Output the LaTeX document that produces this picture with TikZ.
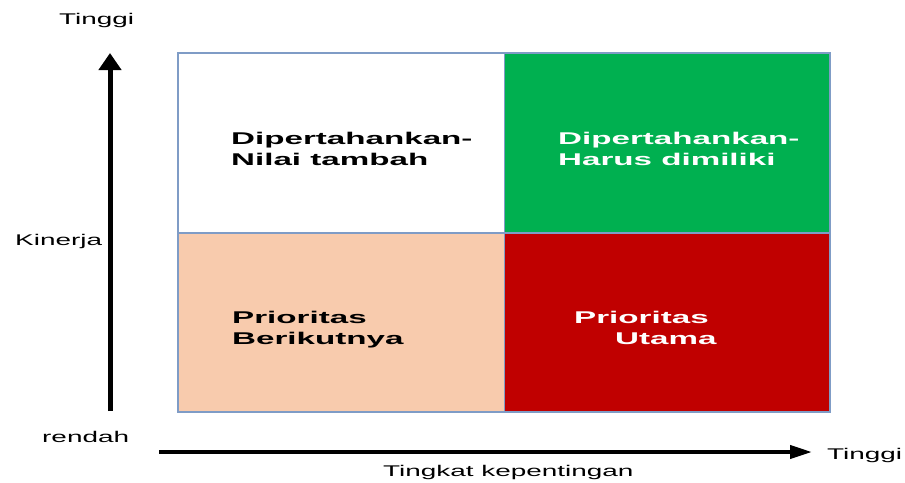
\documentclass[tikz,border=0pt]{standalone}
\usepackage{fontspec}
\setmainfont{Liberation Sans}
\newfontfamily\labfont{Liberation Sans}[FakeStretch=1.8]
\newfontfamily\boxfont{Liberation Sans Bold}[FakeStretch=1.95]
\usetikzlibrary{arrows.meta}
\definecolor{cellborder}{HTML}{7F9CC6}
\definecolor{peach}{HTML}{F8CBAD}
\definecolor{qgreen}{HTML}{00B050}
\definecolor{qred}{HTML}{C00000}
\tikzset{
  cell/.style={draw=cellborder, line width=1.4pt, inner sep=0pt},
  axlab/.style={font=\labfont\fontsize{15.5pt}{18pt}\selectfont, inner sep=0pt, anchor=base west, text=black},
  boxlab/.style={font=\boxfont\fontsize{17pt}{20pt}\selectfont, inner sep=0pt, anchor=base west},
}
\begin{document}
\begin{tikzpicture}[x=1pt,y=-1pt]
\useasboundingbox (0,0) rectangle (905,482);
% cells
\path[cell, fill=white] (178,53) rectangle (504.5,233);
\path[cell, fill=qgreen] (504.5,53) rectangle (830,233);
\path[cell, fill=peach] (178,233) rectangle (504.5,412);
\path[cell, fill=qred] (504.5,233) rectangle (830,412);
% cell labels
\node[boxlab] (tl1) at (231,144.3) {Dipertahankan-};
\node[boxlab] (tl2) at (231,165.7) {Nilai tambah};
\node[boxlab, text=white] (tr1) at (558,144.3) {Dipertahankan-};
\node[boxlab, text=white] (tr2) at (558,165.7) {Harus dimiliki};
\node[boxlab] (bl1) at (232,323.3) {Prioritas};
\node[boxlab] (bl2) at (232,344) {Berikutnya};
\node[boxlab, text=white] (br1) at (574,323.3) {Prioritas};
\node[boxlab, text=white] (br2) at (615,344) {Utama};
% axes
\coordinate (vbot) at (110,411);
\coordinate (vtop) at (110,53);
\coordinate (hleft) at (159,452);
\coordinate (hright) at (812,452);
\draw[line width=5pt, -{Triangle[width=22pt,length=17pt]}] (vbot) -- (vtop);
\draw[line width=4pt, -{Triangle[width=13pt,length=22pt]}] (hleft) -- (hright);
% axis labels
\node[axlab] (ytop) at (59,24) {Tinggi};
\node[axlab] (ymid) at (15,245) {Kinerja};
\node[axlab] (ylow) at (42,442) {rendah};
\node[axlab] (xhigh) at (827,459) {Tinggi};
\node[axlab] (xlab) at (383,476) {Tingkat kepentingan};
\end{tikzpicture}
\end{document}
